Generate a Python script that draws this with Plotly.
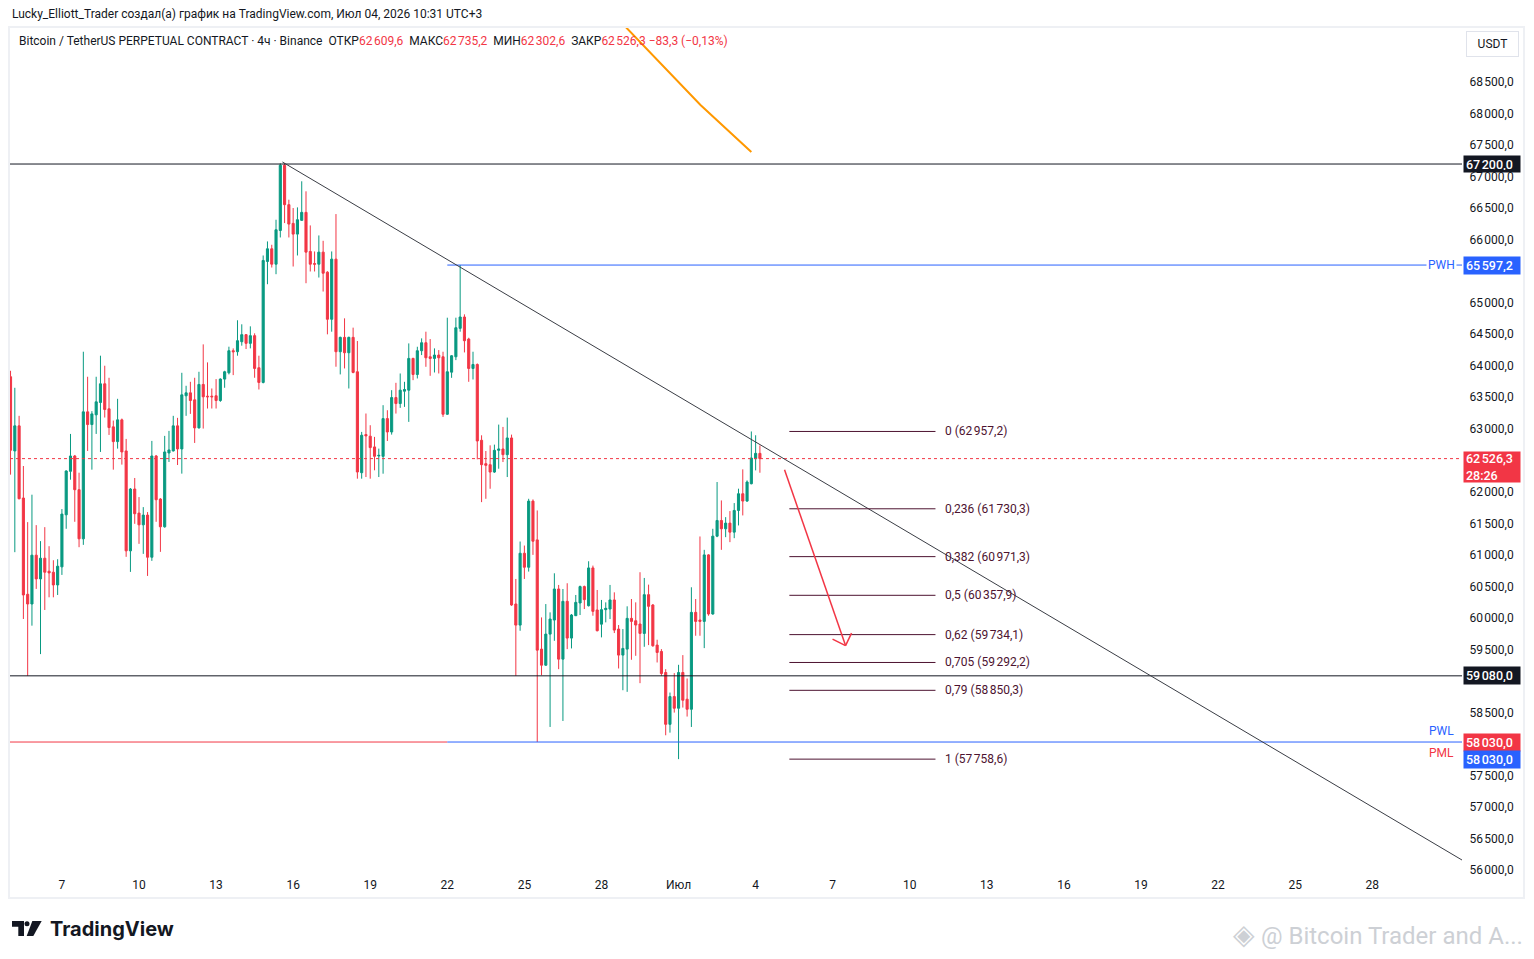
import plotly.graph_objects as go
import pandas as pd

# 4h candles, BTCUSDT.P Binance, UTC+3
first_bar = "2026-06-05 03:00"
opens = [63825, 62648, 63046, 61901, 60374, 60220, 60994, 60618, 60946, 60740,
         60724, 60522, 60809, 61635, 62325, 62568, 62033, 61254, 63268, 63067,
         63221, 63417, 63713, 63316, 63030, 62796, 63141, 62648, 61063, 62044,
         61662, 61476, 61630, 60962, 62568, 61885, 61445, 62616, 62648, 63046,
         62680, 63523, 63570, 63459, 63014, 63703, 63517, 63517, 63523, 63448,
         63788, 63888, 64238, 64222, 64381, 64493, 64355, 64477, 63968, 63735,
         65654, 65855, 65611, 66146, 67180, 66555, 66258, 66088, 66306, 66433,
         65813, 65620, 65611, 65802, 65484, 64737, 65691, 64222, 64450, 64206,
         64450, 63904, 62303, 62908, 62882, 62712, 62568, 62562, 63161, 62949,
         63495, 63400, 63596, 63612, 64116, 63861, 64238, 64365, 64142, 64116,
         64169, 64142, 63230, 63898, 64142, 64593, 64773, 64423, 63957, 64020,
         62817, 62446, 62430, 62313, 62658, 62679, 62589, 62854, 60220, 59885,
         61025, 60803, 61852, 61237, 59504, 59249, 59742, 59965, 60458, 59345,
         60262, 59679, 60034, 60236, 60496, 60193, 60792, 60125, 59900, 60130,
         60140, 60284, 59822, 59409, 59504, 59992, 59954, 59902, 59753, 60368,
         60204, 59568, 59467, 59133, 58311, 58751, 58566, 59133, 58709, 58550,
         60087, 59965, 59944, 60999, 60061, 61296, 61545, 61413, 61503, 61360,
         61704, 61969, 61853, 62128, 62526, 62609.6]
highs = [63920, 63650, 63205, 62409, 61519, 61954, 61471, 61217, 61439, 61137,
         60914, 60930, 61726, 62341, 62918, 62584, 62303, 64222, 63825, 63279,
         63825, 64159, 64000, 63809, 63130, 63475, 63162, 62839, 62060, 62219,
         61916, 61757, 61678, 62807, 62584, 61900, 62887, 62966, 63205, 63173,
         63888, 63682, 63745, 63809, 63904, 64339, 64053, 63639, 63788, 63800,
         63920, 64302, 64275, 64721, 64657, 64503, 64625, 64514, 64159, 65749,
         65972, 65919, 66316, 67210, 67215, 66634, 66502, 66512, 66926, 66767,
         66226, 65813, 66067, 65982, 65500, 65813, 66406, 64461, 64752, 64461,
         64604, 64392, 62950, 63242, 63056, 62871, 62685, 63374, 63294, 63612,
         63729, 63877, 63745, 64354, 64126, 64301, 64434, 64540, 64423, 64275,
         64248, 64222, 64762, 64169, 64762, 65597.2, 64815, 64444, 64222, 64036,
         62896, 62647, 62737, 62748, 63066, 63029, 63177, 62907, 60617, 61211,
         61147, 61889, 61879, 61704, 60007, 60219, 60087, 60707, 60522, 60458,
         60549, 60061, 60363, 60512, 60512, 60898, 60829, 60442, 60284, 60246,
         60522, 60405, 59886, 59822, 60183, 60299, 60246, 60724, 60633, 60527,
         60220, 59653, 59504, 59186, 58815, 59123, 59255, 59409, 59038, 60485,
         60299, 61291, 61079, 61010, 61413, 62155, 61863, 61598, 61694, 61821,
         62049, 62356, 62181, 62957.2, 62897, 62735.2]
lows = [62272, 61042, 61880, 59982, 59080, 59876, 60459, 59425, 60125, 60326,
        60326, 60363, 60681, 61413, 62192, 61524, 61121, 61158, 62648, 62351,
        62918, 62632, 63178, 62902, 62351, 62685, 62431, 60968, 60729, 61492,
        61174, 61015, 60665, 60904, 61524, 61047, 61430, 62473, 62640, 62425,
        62288, 63205, 63236, 62775, 63003, 63003, 63321, 63321, 63321, 63427,
        63650, 63862, 63851, 64159, 64318, 64265, 64275, 63809, 63623, 63720,
        65293, 65558, 65452, 66035, 66263, 66035, 65574, 65749, 66300, 65309,
        65495, 65495, 65399, 65177, 64498, 64540, 63984, 63862, 63957, 63639,
        63880, 62208, 62208, 62234, 62208, 62341, 62234, 62287, 62806, 62907,
        63241, 63331, 63347, 63109, 63771, 63798, 64169, 63983, 63840, 63893,
        63877, 63188, 63220, 63808, 64089, 64540, 64211, 63745, 63782, 62515,
        61836, 61889, 62048, 62300, 62366, 62472, 62234, 60190, 59080, 59795,
        60617, 60734, 60999, 58030, 59090, 59239, 58269, 59636, 59186, 58364,
        59504, 59515, 60030, 60045, 60140, 60180, 60034, 59785, 59690, 59928,
        59981, 59759, 59197, 58852, 58826, 59335, 59398, 58964, 59541, 59568,
        59541, 59292, 59080, 58137, 58179, 58497, 57758.6, 58577, 58434, 58269,
        59716, 59716, 59520, 60034, 60050, 61280, 61079, 61280, 61201, 61264,
        61466, 61625, 61840, 62118, 62340, 62302.6]
closes = [62659, 63046, 61890, 60363, 60220, 60994, 60618, 60946, 60724, 60713,
          60522, 60819, 61646, 62330, 62568, 62033, 61254, 63268, 63067, 63236,
          63427, 63713, 63305, 63019, 62796, 63141, 62632, 61063, 62044, 61652,
          61476, 61630, 60962, 62568, 61874, 61445, 62632, 62664, 63046, 62680,
          63538, 63570, 63448, 63014, 63703, 63507, 63507, 63507, 63448, 63788,
          63904, 64238, 64222, 64397, 64493, 64355, 64477, 63957, 63735, 65670,
          65855, 65611, 66157, 67180, 66555, 66247, 66088, 66316, 66433, 65802,
          65611, 65611, 65802, 65468, 64737, 65691, 64222, 64450, 64206, 64450,
          63894, 62314, 62897, 62887, 62701, 62563, 62578, 63161, 62949, 63495,
          63400, 63612, 63623, 64116, 63861, 64238, 64365, 64126, 64116, 64169,
          64126, 63230, 63904, 64158, 64603, 64773, 64397, 63957, 64020, 62806,
          62430, 62420, 62313, 62658, 62679, 62589, 62854, 60204, 59885, 61025,
          60803, 61852, 61216, 59488, 59249, 59742, 59981, 60458, 59345, 60262,
          59679, 60045, 60246, 60496, 60289, 60792, 60103, 59796, 60130, 60151,
          60284, 59806, 59409, 59515, 59992, 59944, 59886, 59753, 60368, 60183,
          59557, 59451, 59117, 58311, 58751, 58566, 59133, 58693, 58550, 60087,
          59944, 59944, 60999, 60061, 61296, 61545, 61413, 61503, 61360, 61704,
          61969, 61853, 62155, 62536, 62609.6, 62526.3]

# drawn levels
level_high = 67200.0
level_low = 59080.0
pwh = 65597.2
pwl = 58030.0
pml = 58030.0
week_start = "2026-06-22 03:00"
countdown = "28:26"

# trendline anchors (time, price)
trend_t = ["2026-06-15 17:00", "2026-07-31 14:50"]
trend_p = [67232, 56158]

# orange curve
orange_t = ["2026-06-28 12:00", "2026-07-01 23:30", "2026-07-03 23:00"]
orange_p = [69615, 68137, 67391]

# forecast arrow
arrow_t = ["2026-07-05 06:00", "2026-07-07 15:00"]
arrow_p = [62350, 59560]

# fib retracement
fib_high = 62957.2
fib_low = 57758.6
fib_ratios = [0, 0.236, 0.382, 0.5, 0.62, 0.705, 0.79, 1]
fib_t = ["2026-07-05 10:30", "2026-07-11 03:00"]

tick_days = ["2026-06-07", "2026-06-10", "2026-06-13", "2026-06-16", "2026-06-19",
             "2026-06-22", "2026-06-25", "2026-06-28", "2026-07-01", "2026-07-04",
             "2026-07-07", "2026-07-10", "2026-07-13", "2026-07-16", "2026-07-19",
             "2026-07-22", "2026-07-25", "2026-07-28"]
tick_labels = ["7", "10", "13", "16", "19", "22", "25", "28", "Июл", "4",
               "7", "10", "13", "16", "19", "22", "25", "28"]
# ticks hidden behind the price tags are left out
price_ticks = [v for v in range(56000, 69000, 500) if v not in (58000, 59000, 62500, 65500)]

GREEN = "#089981"
RED = "#f23645"
BLUE = "#2962ff"
INK = "#131722"
FIB = "#4d1330"
FONT = "Roboto, Liberation Sans, sans-serif"

x_range = [pd.Timestamp("2026-06-05 02:30"), pd.Timestamp("2026-07-31 14:50")]
y_range = [55968, 69358]

# page pixels (the html body adds an 8px margin)
W, H, OFF = 1518, 943, 8
PL, PR, PT, PB = 10, 1462, 28, 872
hours_per_px = (x_range[1] - x_range[0]).total_seconds() / 3600 / (PR - PL)
price_per_px = (y_range[1] - y_range[0]) / (PB - PT)


def paper_x(x):
    return (x - PL) / (PR - PL)


def paper_y(y):
    return (PB - y) / (PB - PT)


def fmt(v):
    return f"{v:,.1f}".replace(",", "\u202f").replace(".", ",")


def offset(t, p, dx, dy):
    return pd.Timestamp(t) + pd.Timedelta(hours=dx * hours_per_px), p - dy * price_per_px


times = pd.date_range(first_bar, periods=len(opens), freq="4h")

fig = go.Figure()
fig.add_trace(go.Candlestick(
    x=times, open=opens, high=highs, low=lows, close=closes,
    increasing=dict(line=dict(color=GREEN, width=1), fillcolor=GREEN),
    decreasing=dict(line=dict(color=RED, width=1), fillcolor=RED),
    whiskerwidth=0, showlegend=False, hoverinfo="skip",
))

fig.add_trace(go.Scatter(
    x=orange_t, y=orange_p, mode="lines",
    line=dict(color="#ff9800", width=2), showlegend=False, hoverinfo="skip",
))

shapes = []
line_style = dict(color=INK, width=1)
for lv in (level_high, level_low):
    shapes.append(dict(type="line", xref="paper", yref="y", x0=0, x1=1, y0=lv, y1=lv, line=line_style))
shapes.append(dict(type="line", xref="x", yref="y", x0=x_range[0], x1=week_start, y0=pml, y1=pml,
                   line=dict(color=RED, width=1)))
shapes.append(dict(type="line", xref="x", yref="y", x0=week_start, x1=x_range[1], y0=pwl, y1=pwl,
                   line=dict(color=BLUE, width=1)))
shapes.append(dict(type="line", xref="x", yref="y", x0=week_start, x1=x_range[1], y0=pwh, y1=pwh,
                   line=dict(color=BLUE, width=1)))
shapes.append(dict(type="line", xref="paper", yref="y", x0=0, x1=1, y0=closes[-1], y1=closes[-1],
                   line=dict(color=RED, width=1, dash="dot")))
shapes.append(dict(type="line", xref="x", yref="y", x0=trend_t[0], x1=trend_t[1],
                   y0=trend_p[0], y1=trend_p[1], line=dict(color="#3a3d45", width=1)))

# fib levels
annotations = []
for r in fib_ratios:
    lv = fib_high - r * (fib_high - fib_low)
    shapes.append(dict(type="line", xref="x", yref="y", x0=fib_t[0], x1=fib_t[1], y0=lv, y1=lv,
                       line=dict(color=FIB, width=1)))
    label = ("%g" % r).replace(".", ",")
    annotations.append(dict(x=fib_t[1], y=lv, xref="x", yref="y", xanchor="left", yanchor="middle",
                            xshift=8, showarrow=False, text=f"{label} ({fmt(lv)})",
                            font=dict(family=FONT, size=12, color=FIB)))

# arrow shaft and head
shapes.append(dict(type="line", xref="x", yref="y", x0=arrow_t[0], x1=arrow_t[1],
                   y0=arrow_p[0], y1=arrow_p[1], line=dict(color=RED, width=1.5)))
for dx, dy in ((-13, -6.5), (6, -12.5)):
    bt, bp = offset(arrow_t[1], arrow_p[1], dx, dy)
    shapes.append(dict(type="line", xref="x", yref="y", x0=arrow_t[1], x1=bt,
                       y0=arrow_p[1], y1=bp, line=dict(color=RED, width=1.5)))

# outer frame
shapes.append(dict(type="rect", xref="paper", yref="paper", x0=paper_x(9), x1=paper_x(1524),
                   y0=paper_y(898), y1=paper_y(27), line=dict(color="#eef0f4", width=2), layer="below"))

# TradingView logo
logo_paths = [
    [(12, 921), (24, 921), (24, 936), (18.3, 936), (18.3, 926.7), (12, 926.7)],
    [(32.3, 921), (41.7, 921), (33.3, 936), (26.7, 936)],
]
for pts in logo_paths:
    path = "M " + " L ".join(f"{paper_x(a):.5f},{paper_y(b):.5f}" for a, b in pts) + " Z"
    shapes.append(dict(type="path", xref="paper", yref="paper", path=path,
                       fillcolor=INK, line=dict(width=0)))
shapes.append(dict(type="circle", xref="paper", yref="paper", x0=paper_x(24.5), x1=paper_x(29.5),
                   y0=paper_y(926.2), y1=paper_y(921.2), fillcolor=INK, line=dict(width=0)))


# price-scale labels
def price_tag(value, color, text=None, yshift=0, yanchor="middle", height=None):
    return dict(xref="paper", yref="y", x=1, y=value, xanchor="left", yanchor=yanchor,
                xshift=1, yshift=yshift, showarrow=False, text=text or fmt(value),
                align="left", bgcolor=color, borderpad=2, width=52, height=height,
                font=dict(family=FONT, size=12.5, color="white", weight=500))


annotations += [
    price_tag(level_high, INK, height=12),
    price_tag(pwh, BLUE, height=13),
    price_tag(closes[-1], RED, text=f"{fmt(closes[-1])}<br>{countdown}", yshift=8, yanchor="top", height=26),
    price_tag(level_low, INK, height=13),
    price_tag(pwl, RED, height=13),
    price_tag(pml, BLUE, yshift=-17, height=13),
]
annotations.append(dict(xref="paper", yref="y", x=paper_x(1457), y=pwh, xanchor="right", showarrow=False,
                        text="PWH", bgcolor="white", borderpad=1,
                        font=dict(family=FONT, size=12, color=BLUE)))
annotations.append(dict(xref="paper", yref="y", x=paper_x(1456), y=pwl, xanchor="right", yanchor="bottom",
                        yshift=2, showarrow=False, text="PWL", font=dict(family=FONT, size=12, color=BLUE)))
annotations.append(dict(xref="paper", yref="y", x=paper_x(1456), y=pml, xanchor="right", yanchor="top",
                        yshift=-2, showarrow=False, text="PML", font=dict(family=FONT, size=12, color=RED)))

# legend line
change = closes[-1] - closes[-2]
pct = change / closes[-2] * 100
sp = "\u00a0\u00a0"


def red(s):
    return f"<span style='color:{RED}'>{s}</span>"


legend = (f"Bitcoin / TetherUS PERPETUAL CONTRACT · 4ч · Binance{sp}"
          f"ОТКР{red(fmt(opens[-1]))}{sp}МАКС{red(fmt(highs[-1]))}{sp}"
          f"МИН{red(fmt(lows[-1]))}{sp}ЗАКР{red(fmt(closes[-1]))}\u00a0"
          + red(f"{fmt(change).replace('-', '−')} ({pct:.2f}%)".replace(".", ",").replace("(-", "(−")))
annotations.append(dict(xref="paper", yref="paper", x=paper_x(17), y=paper_y(41), xanchor="left",
                        yanchor="middle", showarrow=False, text=legend,
                        font=dict(family=FONT, size=12, color=INK)))
annotations.append(dict(xref="paper", yref="paper", x=paper_x(10), y=paper_y(14), xanchor="left",
                        yanchor="middle", showarrow=False,
                        text="Lucky_Elliott_Trader создал(а) график на TradingView.com, Июл 04, 2026 10:31 UTC+3",
                        font=dict(family=FONT, size=12, color=INK)))
annotations.append(dict(xref="paper", yref="paper", x=paper_x(1492), y=paper_y(44), xanchor="center",
                        yanchor="middle", showarrow=False, text="USDT", bgcolor="white",
                        bordercolor="#e0e3eb", borderwidth=1, borderpad=3, width=45, height=18,
                        font=dict(family=FONT, size=12, color=INK)))
annotations.append(dict(xref="paper", yref="paper", x=paper_x(48), y=paper_y(929), xanchor="left",
                        yanchor="middle", showarrow=False, text="<b>TradingView</b>",
                        font=dict(family="Inter, Roboto, sans-serif", size=20, color=INK)))
annotations.append(dict(xref="paper", yref="paper", x=paper_x(1525), y=paper_y(934), xanchor="right",
                        yanchor="middle", showarrow=False,
                        text="<span style='font-size:28px'>◈</span>\u00a0@ Bitcoin Trader and A...",
                        font=dict(family=FONT, size=24, color="#cdd0d5")))

fig.update_layout(
    width=W, height=H,
    margin=dict(l=PL - OFF, r=W - (PR - OFF), t=PT - OFF, b=H - (PB - OFF)),
    paper_bgcolor="white", plot_bgcolor="white",
    shapes=shapes, annotations=annotations,
    font=dict(family=FONT, size=12, color=INK),
    xaxis=dict(
        type="date", range=x_range, rangeslider=dict(visible=False),
        showgrid=False, zeroline=False, showline=False,
        tickvals=[pd.Timestamp(d + " 03:00") for d in tick_days], ticktext=tick_labels,
        ticks="outside", ticklen=2, tickcolor="rgba(0,0,0,0)",
        tickfont=dict(family=FONT, size=12, color=INK),
    ),
    yaxis=dict(
        side="right", range=y_range, showgrid=False, zeroline=False, showline=False,
        tickvals=price_ticks, ticktext=[fmt(v) for v in price_ticks],
        ticks="outside", ticklen=4, tickcolor="rgba(0,0,0,0)",
        tickfont=dict(family=FONT, size=12, color=INK),
    ),
    hovermode=False,
)

fig.write_html("out.html")
